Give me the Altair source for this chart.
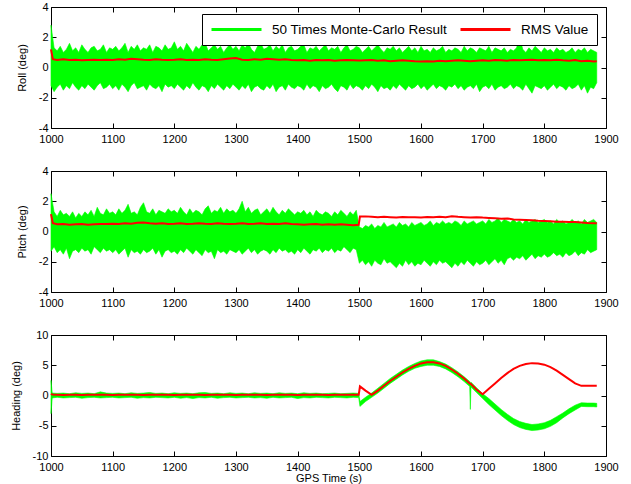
import altair as alt
import pandas as pd

GREEN = "#00ff00"
RED = "#ff0000"
FONT = "Liberation Sans"
G_NAME = "50 Times Monte-Carlo Result"
R_NAME = "RMS Value"

X_TICKS = [1000, 1100, 1200, 1300, 1400, 1500, 1600, 1700, 1800, 1900]
RP_TICKS = [-4, -2, 0, 2, 4]
H_TICKS = [-10, -5, 0, 5, 10]

# sample times (s)
T5 = list(range(1000, 1886, 5))
RMS_T = [1000, 1003] + list(range(1010, 1500, 10)) + [1499, 1501] + list(range(1510, 1881, 10)) + [1885]
H_T = ([1000, 1002] + list(range(1010, 1500, 10)) + [1499, 1501] + list(range(1510, 1680, 10))
       + [1679, 1680, 1681] + list(range(1690, 1881, 10)) + [1885])

# Roll: envelope of the 50 Monte-Carlo runs (deg)
ROLL_HI = [2.8, 1.3, 1.1, 1.4, 1.0, 1.2, 1.6, 1.1, 1.3, 1.0,
           1.5, 1.2, 1.0, 1.3, 1.4, 1.1, 1.2, 1.5, 1.0, 1.3,
           1.2, 1.4, 1.1, 1.3, 1.6, 1.0, 1.4, 1.2, 1.5, 1.1,
           1.3, 1.2, 1.5, 1.0, 1.4, 1.3, 1.1, 1.5, 1.2, 1.3,
           1.7, 1.2, 1.4, 1.1, 1.6, 1.3, 1.0, 1.4, 1.2, 1.5,
           1.6, 1.1, 1.3, 1.5, 1.2, 1.4, 1.0, 1.3, 1.5, 1.2,
           1.4, 1.1, 1.5, 1.3, 1.6, 1.2, 1.0, 1.4, 1.6, 1.2,
           1.3, 1.5, 1.1, 1.4, 1.2, 1.5, 1.0, 1.3, 1.4, 1.1,
           1.2, 1.4, 1.5, 1.0, 1.3, 1.2, 1.4, 1.1, 1.3, 1.5,
           1.1, 1.3, 1.2, 1.4, 1.0, 1.3, 1.5, 1.1, 1.2, 1.4,
           1.3, 1.0, 1.2, 1.4, 1.1, 1.3, 1.5, 1.2, 1.0, 1.3,
           1.2, 1.4, 1.1, 1.3, 1.0, 1.2, 1.4, 1.1, 1.3, 1.0,
           1.4, 1.1, 1.2, 1.0, 1.3, 1.1, 1.2, 1.4, 1.0, 1.2,
           1.1, 1.3, 1.2, 1.0, 1.4, 1.1, 1.3, 1.2, 1.0, 1.3,
           1.2, 1.1, 1.4, 1.0, 1.3, 1.2, 1.1, 1.3, 1.0, 1.2,
           1.1, 1.3, 2.0, 1.2, 1.0, 1.3, 1.1, 1.4, 1.2, 1.0,
           1.3, 1.1, 1.2, 1.0, 1.3, 1.1, 1.2, 1.0, 1.1, 1.3,
           1.0, 1.2, 1.1, 1.3, 1.0, 1.2, 1.1, 1.0]
ROLL_LO = [-1.2, -1.6, -1.3, -1.1, -1.5, -1.2, -1.4, -1.0, -1.3, -1.5,
           -1.2, -1.4, -1.1, -1.3, -1.5, -1.2, -1.0, -1.4, -1.3, -1.1,
           -1.4, -1.2, -1.5, -1.1, -1.3, -1.6, -1.2, -1.0, -1.4, -1.3,
           -1.2, -1.5, -1.1, -1.3, -1.4, -1.2, -1.6, -1.1, -1.3, -1.2,
           -1.4, -1.1, -1.3, -1.5, -1.2, -1.4, -1.0, -1.3, -1.5, -1.2,
           -1.3, -1.6, -1.2, -1.4, -1.1, -1.3, -1.5, -1.2, -1.4, -1.1,
           -1.3, -1.5, -1.2, -1.4, -1.1, -1.6, -1.3, -1.2, -1.4, -1.5,
           -1.2, -1.4, -1.1, -1.6, -1.3, -1.2, -1.5, -1.1, -1.3, -1.4,
           -1.2, -1.3, -1.5, -1.1, -1.4, -1.2, -1.3, -1.6, -1.2, -1.4,
           -1.3, -1.1, -1.4, -1.6, -1.2, -1.3, -1.5, -1.1, -1.4, -1.2,
           -1.3, -1.5, -1.2, -1.4, -1.1, -1.3, -1.6, -1.2, -1.4, -1.3,
           -1.5, -1.2, -1.4, -1.1, -1.3, -1.5, -1.2, -1.4, -1.3, -1.1,
           -1.4, -1.2, -1.5, -1.3, -1.1, -1.4, -1.2, -1.3, -1.5, -1.2,
           -1.3, -1.1, -1.4, -1.2, -1.5, -1.3, -1.2, -1.4, -1.1, -1.6,
           -1.3, -1.2, -1.4, -1.1, -1.5, -1.3, -1.2, -1.4, -1.3, -1.1,
           -1.4, -1.2, -1.3, -1.5, -1.1, -1.4, -1.7, -1.2, -1.3, -1.4,
           -1.2, -1.5, -1.3, -1.1, -1.4, -1.2, -1.3, -1.5, -1.2, -1.4,
           -1.3, -1.1, -1.5, -1.2, -1.7, -1.3, -1.4, -1.0]
ROLL_RMS = [1.2, 0.55,
            0.5, 0.55, 0.5, 0.52, 0.48, 0.5, 0.52, 0.5, 0.52,
            0.5, 0.55, 0.52, 0.58, 0.55, 0.52, 0.5, 0.55, 0.52, 0.5,
            0.52, 0.55, 0.5, 0.52, 0.5, 0.55, 0.52, 0.5, 0.55, 0.6,
            0.62, 0.52, 0.5, 0.55, 0.52, 0.58, 0.55, 0.52, 0.55, 0.5,
            0.48, 0.5, 0.45, 0.5, 0.48, 0.5, 0.45, 0.48, 0.5, 0.48,
            0.47, 0.46,
            0.48, 0.5, 0.45, 0.48, 0.42, 0.45, 0.48, 0.45, 0.42,
            0.4, 0.42, 0.4, 0.45, 0.42, 0.45, 0.48, 0.45, 0.42, 0.45,
            0.48, 0.45, 0.5, 0.48, 0.45, 0.5, 0.48, 0.5, 0.52, 0.48,
            0.5, 0.48, 0.52, 0.48, 0.45, 0.5, 0.42, 0.45, 0.4,
            0.42]

# Pitch
PITCH_HI = [2.5, 1.3, 1.0, 1.4, 1.1, 1.2, 1.0, 1.3, 0.9, 1.2,
            1.0, 1.3, 1.1, 1.4, 1.0, 1.6, 1.2, 1.1, 1.5, 1.2,
            1.3, 1.1, 1.5, 1.2, 1.4, 1.8, 1.2, 1.3, 1.1, 1.6,
            1.9, 1.3, 1.2, 1.5, 1.1, 1.4, 1.3, 1.2, 1.5, 1.3,
            1.4, 1.2, 1.6, 1.3, 1.1, 1.5, 1.2, 1.4, 1.3, 1.1,
            1.5, 1.7, 1.2, 1.4, 1.3, 1.6, 1.2, 1.5, 1.3, 1.4,
            1.2, 1.5, 2.0, 1.3, 1.6, 1.2, 1.4, 1.5, 1.1, 1.3,
            1.5, 1.2, 1.6, 1.3, 1.1, 1.4, 1.2, 1.5, 1.3, 1.1,
            1.3, 1.2, 1.4, 1.1, 1.3, 1.0, 1.4, 1.2, 1.1, 1.3,
            1.2, 1.0, 1.3, 1.1, 1.4, 1.2, 1.0, 1.3, 1.1, 1.4,
            0.3, 0.2, 0.4, 0.3, 0.5, 0.2, 0.4, 0.3, 0.6, 0.3,
            0.4, 0.5, 0.3, 0.6, 0.4, 0.5, 0.3, 0.6, 0.4, 0.5,
            0.6, 0.4, 0.5, 0.7, 0.4, 0.6, 0.5, 0.7, 0.5, 0.6,
            0.5, 0.7, 0.6, 0.4, 0.7, 0.5, 0.6, 0.7, 0.5, 0.6,
            0.7, 0.5, 0.8, 0.6, 0.7, 0.9, 0.6, 0.8, 0.7, 0.6,
            0.8, 0.6, 0.7, 0.5, 0.8, 0.6, 0.7, 0.8, 0.6, 0.7,
            0.8, 0.6, 0.7, 0.5, 0.8, 0.6, 0.7, 0.5, 0.6, 0.8,
            0.6, 0.7, 0.5, 0.8, 0.6, 0.7, 0.8, 0.6]
PITCH_LO = [-1.3, -1.0, -1.4, -1.2, -1.5, -1.1, -1.8, -1.3, -1.2, -1.4,
            -1.1, -1.3, -1.2, -1.5, -1.0, -1.2, -1.4, -1.1, -1.3, -1.2,
            -1.4, -1.2, -1.5, -1.3, -1.1, -1.7, -1.2, -1.4, -1.3, -1.5,
            -1.2, -1.4, -1.3, -1.1, -1.5, -1.2, -1.7, -1.3, -1.2, -1.4,
            -1.3, -1.5, -1.2, -1.4, -1.1, -1.3, -1.5, -1.2, -1.4, -1.6,
            -1.2, -1.4, -1.3, -1.8, -1.2, -1.4, -1.3, -1.5, -1.2, -1.3,
            -1.4, -1.2, -1.5, -1.3, -1.1, -1.4, -1.2, -1.5, -1.3, -1.2,
            -1.3, -1.5, -1.2, -1.4, -1.1, -1.3, -1.2, -1.4, -1.3, -1.5,
            -1.2, -1.4, -1.1, -1.3, -1.5, -1.2, -1.3, -1.1, -1.4, -1.2,
            -1.3, -1.1, -1.4, -1.2, -1.3, -1.0, -1.2, -1.4, -1.1, -1.2,
            -2.1, -1.9, -2.2, -2.0, -2.3, -1.9, -2.1, -2.2, -1.8, -2.1,
            -2.0, -2.2, -2.4, -2.1, -2.3, -1.9, -2.2, -2.0, -2.3, -2.1,
            -2.2, -1.9, -2.1, -2.3, -2.0, -2.2, -1.9, -2.1, -2.0, -2.2,
            -2.4, -2.1, -2.3, -2.0, -2.2, -1.9, -2.1, -2.3, -2.0, -2.2,
            -2.1, -1.9, -2.2, -2.0, -1.8, -2.1, -1.9, -2.2, -1.8, -1.7,
            -1.9, -1.7, -1.8, -1.6, -1.9, -1.7, -1.5, -1.8, -1.6, -1.7,
            -1.5, -1.7, -1.6, -1.4, -1.6, -1.5, -1.7, -1.4, -1.6, -1.5,
            -1.3, -1.6, -1.4, -1.5, -1.2, -1.4, -1.3, -1.2]
PITCH_RMS = [1.15, 0.55,
             0.48, 0.5, 0.45, 0.48, 0.5, 0.45, 0.48, 0.5, 0.5,
             0.52, 0.5, 0.55, 0.52, 0.58, 0.6, 0.55, 0.52, 0.55, 0.5,
             0.52, 0.55, 0.5, 0.52, 0.55, 0.52, 0.5, 0.55, 0.52, 0.5,
             0.52, 0.55, 0.5, 0.52, 0.55, 0.5, 0.52, 0.5, 0.55, 0.5,
             0.48, 0.45, 0.48, 0.5, 0.45, 0.48, 0.45, 0.48, 0.45, 0.42,
             0.45, 1.0,
             1.0, 0.98, 0.95, 0.97, 0.95, 0.93, 0.96, 0.94, 0.95,
             0.93, 0.96, 0.94, 0.97, 0.95, 1.0, 0.97, 0.95, 0.93, 0.95,
             0.92, 0.9, 0.88, 0.85, 0.86, 0.8, 0.78, 0.76, 0.74, 0.71,
             0.69, 0.67, 0.64, 0.65, 0.62, 0.62, 0.6, 0.57, 0.55,
             0.55]

# Heading
HEAD_HI = ([2.5, 0.4,
            0.35, 0.4, 0.3, 0.45, 0.35, 0.4, 0.3, 0.6, 0.4, 0.35,
            0.4, 0.3, 0.45, 0.35, 0.4, 0.5, 0.35, 0.4, 0.3, 0.45,
            0.35, 0.4, 0.3, 0.45, 0.5, 0.35, 0.4, 0.3, 0.45, 0.35,
            0.4, 0.3, 0.45, 0.35, 0.4, 0.3, 0.45, 0.35, 0.4, 0.3,
            0.45, 0.35, 0.4, 0.3, 0.35, 0.4, 0.3, 0.35, 0.4,
            0.35, -1.0,
            -0.3, 0.4, 1.2, 2.0, 2.8, 3.5, 4.2, 4.8, 5.3, 5.7, 5.9, 5.9, 5.6, 5.2, 4.6, 3.9, 3.1,
            2.3, 2.0, 2.2,
            1.3, 0.3, -0.5, -1.4, -2.3, -3.1, -3.8, -4.3, -4.6, -4.8,
            -4.7, -4.5, -4.1, -3.5, -2.9, -2.2, -1.6, -1.2, -1.25, -1.25,
            -1.3])
HEAD_LO = ([-3.0, -0.4,
            -0.3, -0.4, -0.35, -0.3, -0.45, -0.35, -0.3, -0.4, -0.35, -0.3,
            -0.4, -0.35, -0.3, -0.45, -0.35, -0.4, -0.3, -0.35, -0.4, -0.3,
            -0.45, -0.35, -0.5, -0.35, -0.4, -0.3, -0.45, -0.35, -0.3, -0.4,
            -0.35, -0.3, -0.4, -0.35, -0.45, -0.3, -0.4, -0.35, -0.3, -0.5,
            -0.35, -0.4, -0.3, -0.35, -0.4, -0.3, -0.35, -0.4, -0.3,
            -0.35, -1.8,
            -1.0, -0.3, 0.4, 1.2, 2.0, 2.7, 3.4, 4.0, 4.5, 4.8, 5.0, 5.0, 4.8, 4.4, 3.8, 3.1, 2.3,
            1.5, -2.3, 1.4,
            0.5, -0.5, -1.5, -2.4, -3.3, -4.1, -4.8, -5.3, -5.6, -5.8,
            -5.7, -5.5, -5.1, -4.5, -3.7, -3.0, -2.4, -1.8, -1.85, -1.85,
            -1.9])
HEAD_RMS = ([0.3, 0.15,
             0.12, 0.1, 0.12, 0.13, 0.1, 0.12, 0.11, 0.13, 0.12, 0.1,
             0.12, 0.13, 0.11, 0.12, 0.1, 0.12, 0.13, 0.11, 0.12, 0.1,
             0.12, 0.11, 0.13, 0.12, 0.1, 0.12, 0.11, 0.13, 0.12, 0.1,
             0.12, 0.13, 0.11, 0.12, 0.1, 0.12, 0.13, 0.11, 0.12, 0.1,
             0.12, 0.11, 0.13, 0.12, 0.1, 0.12, 0.11, 0.13, 0.12,
             0.12, 1.5,
             0.8, 0.1, 0.8, 1.6, 2.4, 3.1, 3.8, 4.4, 4.9, 5.3, 5.5, 5.5, 5.3, 4.9, 4.3, 3.6, 2.8,
             2.0, 1.95, 1.9,
             1.0, 0.2, 1.1, 2.0, 2.9, 3.7, 4.4, 4.9, 5.2, 5.35,
             5.3, 5.1, 4.7, 4.1, 3.4, 2.7, 2.0, 1.6, 1.6, 1.6,
             1.6])

W, H = 555, 121
LABEL_EXPR = "'' + datum.value"


def panel(t_g, lo, hi, t_r, rms, ydom, yticks, ytitle, xtitle=None, legend=False):
    gdf = pd.DataFrame({"t": t_g, "lo": lo, "hi": hi})
    rdf = pd.DataFrame({"t": t_r, "v": rms, "series": R_NAME})
    xscale = alt.Scale(domain=[1000, 1900], nice=False, zero=False)
    yscale = alt.Scale(domain=ydom, nice=False, zero=False)
    x_axis = alt.Axis(values=X_TICKS, orient="bottom", offset=-5, tickSize=5, domain=False,
                      grid=False, labelExpr=LABEL_EXPR, labelPadding=5, labelFlush=False,
                      labelOverlap=False,
                      title=xtitle if xtitle else None, titlePadding=0)
    y_axis = alt.Axis(values=yticks, orient="left", offset=-5, tickSize=5, domain=False,
                      grid=False, labelExpr=LABEL_EXPR, labelPadding=3, labelFlush=False,
                      labelOverlap=False, title=ytitle, titlePadding=11)
    area = alt.Chart(gdf).mark_area(color=GREEN, stroke=GREEN, strokeWidth=0.6,
                                    interpolate="linear").encode(
        x=alt.X("t:Q", scale=xscale, axis=x_axis),
        y=alt.Y("lo:Q", scale=yscale, axis=y_axis),
        y2="hi:Q",
    )
    x_top = alt.Axis(values=X_TICKS, orient="top", offset=-5, tickSize=5, domain=False,
                     grid=False, labels=False, title=None)
    y_right = alt.Axis(values=yticks, orient="right", offset=-5, tickSize=5, domain=False,
                       grid=False, labels=False, title=None)
    if legend:
        color = alt.Color(
            "series:N",
            scale=alt.Scale(domain=[G_NAME, R_NAME], range=[GREEN, RED]),
            legend=alt.Legend(orient="none", legendX=151, legendY=7, direction="horizontal",
                              title=None, symbolType="stroke", symbolSize=2500,
                              symbolStrokeWidth=3, labelFontSize=13.5, labelFont=FONT,
                              labelColor="black", labelLimit=400, fillColor="white",
                              strokeColor="black", padding=8, columnPadding=11,
                              labelOffset=9, clipHeight=15),
        )
    else:
        color = alt.value(RED)
    line = alt.Chart(rdf).mark_line(strokeWidth=2).encode(
        x=alt.X("t:Q", scale=xscale, axis=x_top),
        y=alt.Y("v:Q", scale=yscale, axis=y_right),
        color=color,
    )
    return alt.layer(area, line).resolve_axis(x="independent", y="independent").properties(
        width=W, height=H)


p1 = panel(T5, ROLL_LO, ROLL_HI, RMS_T, ROLL_RMS, [-4, 4], RP_TICKS, "Roll (deg)", legend=True)
p2 = panel(T5, PITCH_LO, PITCH_HI, RMS_T, PITCH_RMS, [-4, 4], RP_TICKS, "Pitch (deg)")
p3 = panel(H_T, HEAD_LO, HEAD_HI, H_T, HEAD_RMS, [-10, 10], H_TICKS, "Heading (deg)",
           xtitle="GPS Time (s)")

chart = alt.vconcat(p1, p2, p3, spacing=43, bounds="flush").resolve_scale(
    color="independent"
).properties(
    padding={"left": 9, "top": 0, "right": 5, "bottom": 2},
    background="white",
).configure_view(
    stroke="black", strokeWidth=1
).configure_axis(
    labelFont=FONT, labelFontSize=11, labelColor="black",
    titleFont=FONT, titleFontSize=11, titleFontWeight="normal", titleColor="black",
    tickColor="black", tickWidth=1,
)

chart.save("out.html", embed_options={"renderer": "svg", "actions": False})
